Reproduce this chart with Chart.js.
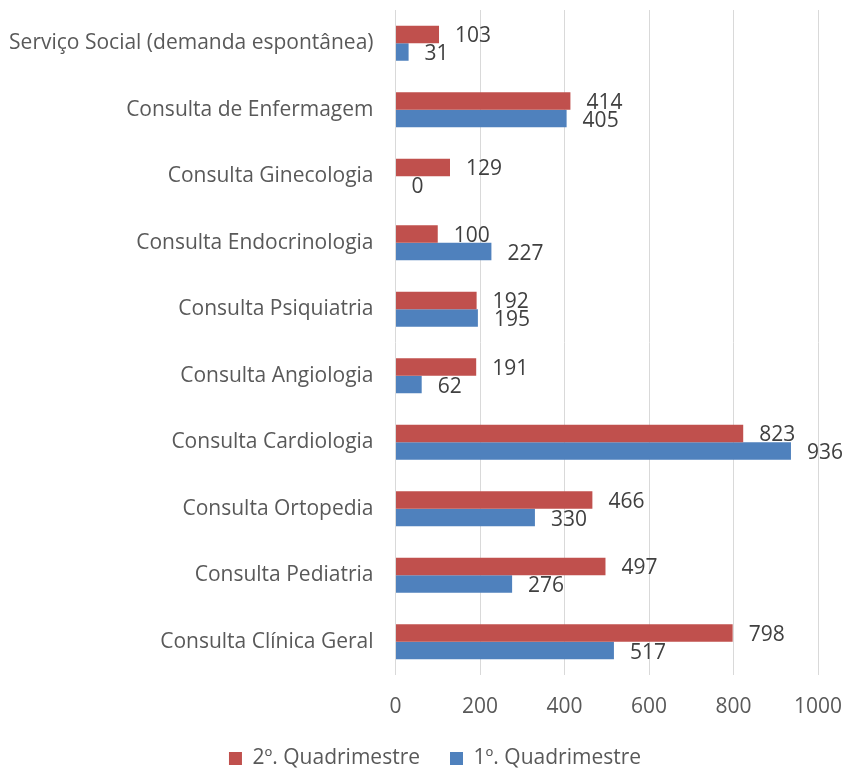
<!DOCTYPE html>
<html>
<head>
<meta charset="utf-8">
<script src="https://cdn.jsdelivr.net/npm/chart.js@4/dist/chart.umd.min.js"></script>
<style>
html,body{margin:0;padding:0;background:#fff;}
#wrap{width:845px;height:769px;position:relative;}
</style>
</head>
<body>
<div id="wrap"><canvas id="c" width="845" height="769"></canvas></div>
<script>
const categories = [
  "Serviço Social (demanda espontânea)",
  "Consulta de Enfermagem",
  "Consulta Ginecologia",
  "Consulta Endocrinologia",
  "Consulta Psiquiatria",
  "Consulta Angiologia",
  "Consulta Cardiologia",
  "Consulta Ortopedia",
  "Consulta Pediatria",
  "Consulta Clínica Geral"
];
const seriesNames = ["2º. Quadrimestre", "1º. Quadrimestre"];
const q2Values = [103, 414, 129, 100, 192, 191, 823, 466, 497, 798];
const q1Values = [31, 405, 0, 227, 195, 62, 936, 330, 276, 517];
const xTicks = [0, 200, 400, 600, 800, 1000];

const FONT = "'Open Sans', Lato, sans-serif";

const dataLabels = {
  id: 'dataLabels',
  beforeLayout(chart) {
    const lg = chart.legend;
    if (lg && !lg._patched) {
      const origFit = lg.fit;
      lg.fit = function () { origFit.call(this); this.height = 56; };
      const origDraw = lg.draw;
      lg.draw = function () {
        const c = this.ctx;
        c.save();
        c.translate(26, 5);
        origDraw.apply(this, arguments);
        c.restore();
      };
      lg._patched = true;
    }
  },
  afterDatasetsDraw(chart) {
    const ctx = chart.ctx;
    ctx.save();
    ctx.font = "21px " + FONT;
    ctx.fillStyle = "#404040";
    ctx.textAlign = "left";
    ctx.textBaseline = "middle";
    chart.data.datasets.forEach((ds, i) => {
      const meta = chart.getDatasetMeta(i);
      meta.data.forEach((el, j) => {
        ctx.fillText(String(ds.data[j]), el.x + 16, el.y + 2);
      });
    });
    ctx.restore();
  }
};

new Chart(document.getElementById('c'), {
  type: 'bar',
  data: {
    labels: categories,
    datasets: [
      { label: seriesNames[0], data: q2Values, backgroundColor: '#C0504D', categoryPercentage: 0.53, barPercentage: 1.0 },
      { label: seriesNames[1], data: q1Values, backgroundColor: '#4F81BD', categoryPercentage: 0.53, barPercentage: 1.0 }
    ]
  },
  options: {
    indexAxis: 'y',
    responsive: false,
    animation: false,
    devicePixelRatio: 1,
    layout: { padding: { top: 10, right: 27, left: 0, bottom: 0 } },
    scales: {
      x: {
        min: 0, max: 1000,
        afterBuildTicks(scale) { scale.ticks = xTicks.map(v => ({ value: v })); },
        grid: { color: '#d9d9d9', lineWidth: 1, drawTicks: false },
        border: { display: false },
        ticks: { font: { family: FONT, size: 21 }, color: '#595959', padding: 19,
                 callback: (v) => String(v) },
        afterFit(scale) { scale.height = 38; scale.paddingLeft = 0; scale.paddingRight = 0; }
      },
      y: {
        grid: { display: false, drawTicks: false },
        border: { display: false },
        ticks: { font: { family: FONT, size: 21 }, color: '#595959', padding: 22 },
        afterFit(scale) { scale.width = 395.5; scale.paddingTop = 0; scale.paddingBottom = 0; }
      }
    },
    plugins: {
      legend: {
        position: 'bottom',
        labels: {
          font: { family: FONT, size: 21 }, color: '#595959',
          boxWidth: 13, boxHeight: 13, padding: 30
        }
      },
      tooltip: { enabled: false }
    }
  },
  plugins: [dataLabels]
});
</script>
</body>
</html>
